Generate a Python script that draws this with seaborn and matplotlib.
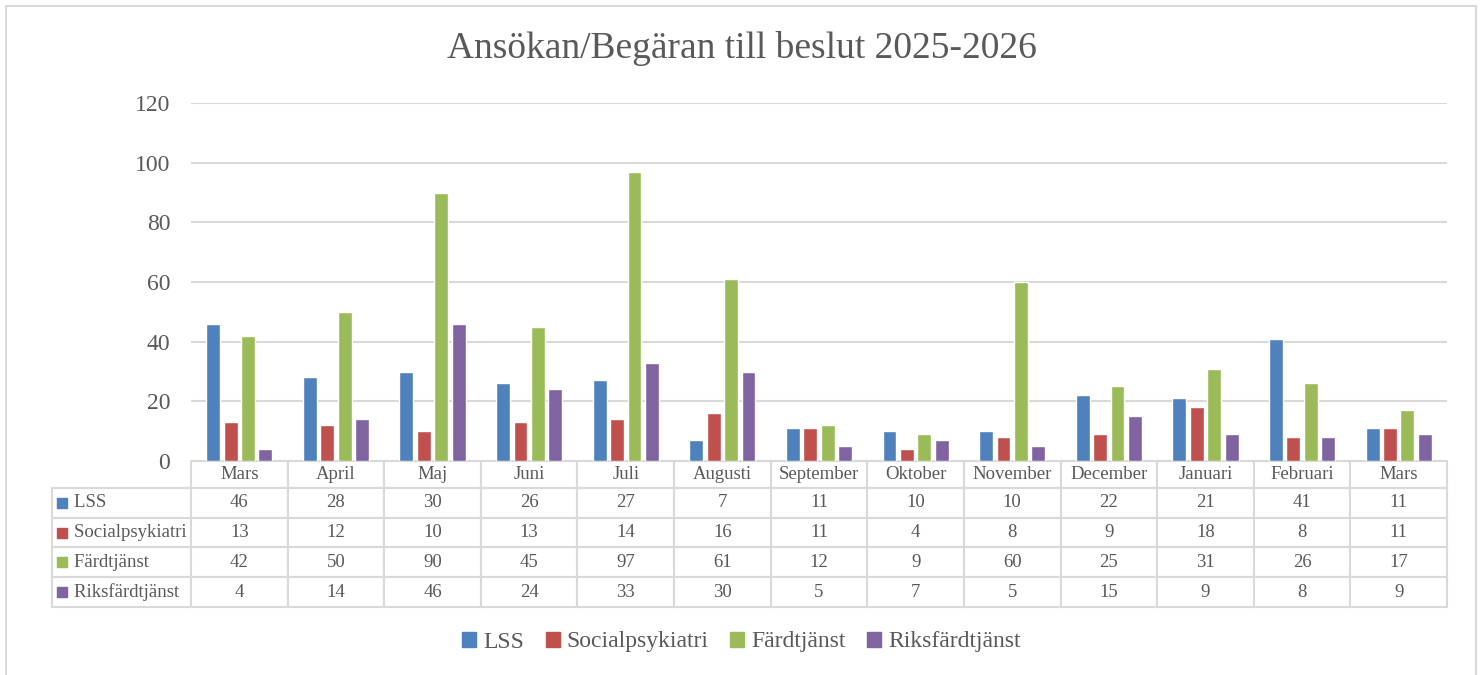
import numpy as np
import pandas as pd
import seaborn as sns
import matplotlib.pyplot as plt
from matplotlib.patches import Rectangle

# data
months = ['Mars', 'April', 'Maj', 'Juni', 'Juli', 'Augusti', 'September',
          'Oktober', 'November', 'December', 'Januari', 'Februari', 'Mars']
series = ['LSS', 'Socialpsykiatri', 'Färdtjänst', 'Riksfärdtjänst']
lss = [46, 28, 30, 26, 27, 7, 11, 10, 10, 22, 21, 41, 11]
socialpsyk = [13, 12, 10, 13, 14, 16, 11, 4, 8, 9, 18, 8, 11]
fardtjanst = [42, 50, 90, 45, 97, 61, 12, 9, 60, 25, 31, 26, 17]
riks = [4, 14, 46, 24, 33, 30, 5, 7, 5, 15, 9, 8, 9]
colors = ['#4F81BD', '#C0504D', '#9BBB59', '#8064A2']

values = [lss, socialpsyk, fardtjanst, riks]
keys = [f'{i:02d} {m}' for i, m in enumerate(months)]  # "Mars" appears twice
rows = []
for s, vals in zip(series, values):
    for k, v in zip(keys, vals):
        rows.append({'Månad': k, 'Serie': s, 'Antal': v})
df = pd.DataFrame(rows)

sns.set_style('white')
plt.rcParams['font.family'] = ['Liberation Serif', 'DejaVu Serif']
txt = '#595959'
grid = '#d9d9d9'

fig = plt.figure(figsize=(14.83, 6.75), dpi=100)
ax = fig.add_axes([191/1483, 1-461/675, (1447-191)/1483, 358/675])

sns.barplot(data=df, x='Månad', y='Antal', hue='Serie', order=keys,
            hue_order=series, palette=colors, width=0.72, gap=0.2,
            saturation=1, legend=False, ax=ax)

ax.set_ylim(0, 120)
ax.set_yticks(range(0, 121, 20))
ax.yaxis.grid(True, color=grid, linewidth=1.5)
ax.set_axisbelow(True)
ax.tick_params(axis='y', length=0, pad=15, labelsize=17, labelcolor=txt)
ax.set_xticks([])
ax.set_xlabel('')
ax.set_ylabel('')
for sp in ax.spines.values():
    sp.set_visible(False)

# data table under the chart, first column holds the series names
cell_text = [['    ' + s] + [str(v) for v in vals]
             for s, vals in zip(series, values)]
tab_h = 146/358
lab_w = 139/1256
tbl = ax.table(cellText=cell_text, colLabels=[''] + months,
               cellLoc='center', bbox=[-lab_w, -tab_h, 1 + lab_w, tab_h])
tbl.auto_set_font_size(False)
for (r, c), cell in tbl.get_celld().items():
    cell.set_edgecolor(grid)
    cell.set_linewidth(1.5)
    cell.get_text().set_color(txt)
    cell.get_text().set_fontsize(13.5)
    cell.set_width(lab_w if c == 0 else 1/13)
    cell.set_height(0.9 if r == 0 else 1.0)
    if c == 0:
        cell.get_text().set_horizontalalignment('left')
        cell._loc = 'left'
        cell.PAD = 0.02
        if r == 0:
            cell.visible_edges = ''

# colour keys in the row labels
row_h = tab_h / 4.9
for i, c in enumerate(colors):
    y = -tab_h + row_h * (3.5 - i)
    ax.scatter([-lab_w + 0.008], [y], marker='s', s=50, color=c,
               transform=ax.transAxes, clip_on=False, zorder=5)

ax.set_xlim(-0.5, len(months) - 0.5)

fig.text(0.5, 1-48/675, 'Ansökan/Begäran till beslut 2025-2026', fontsize=27,
         color=txt, ha='center', va='center')

handles = [Rectangle((0, 0), 1, 1, color=c) for c in colors]
fig.legend(handles, series, loc='center', bbox_to_anchor=(0.5, 1-642/675),
           ncol=4, frameon=False, fontsize=17, handlelength=0.6,
           handleheight=0.6, handletextpad=0.3, columnspacing=0.9,
           labelcolor=txt)

fig.patches.append(Rectangle((6/1483, -0.01), 1470/1483, 1-6/675+0.01,
                             transform=fig.transFigure, fill=False,
                             edgecolor=grid, linewidth=1.5))

fig.savefig('out.png', dpi=100)
